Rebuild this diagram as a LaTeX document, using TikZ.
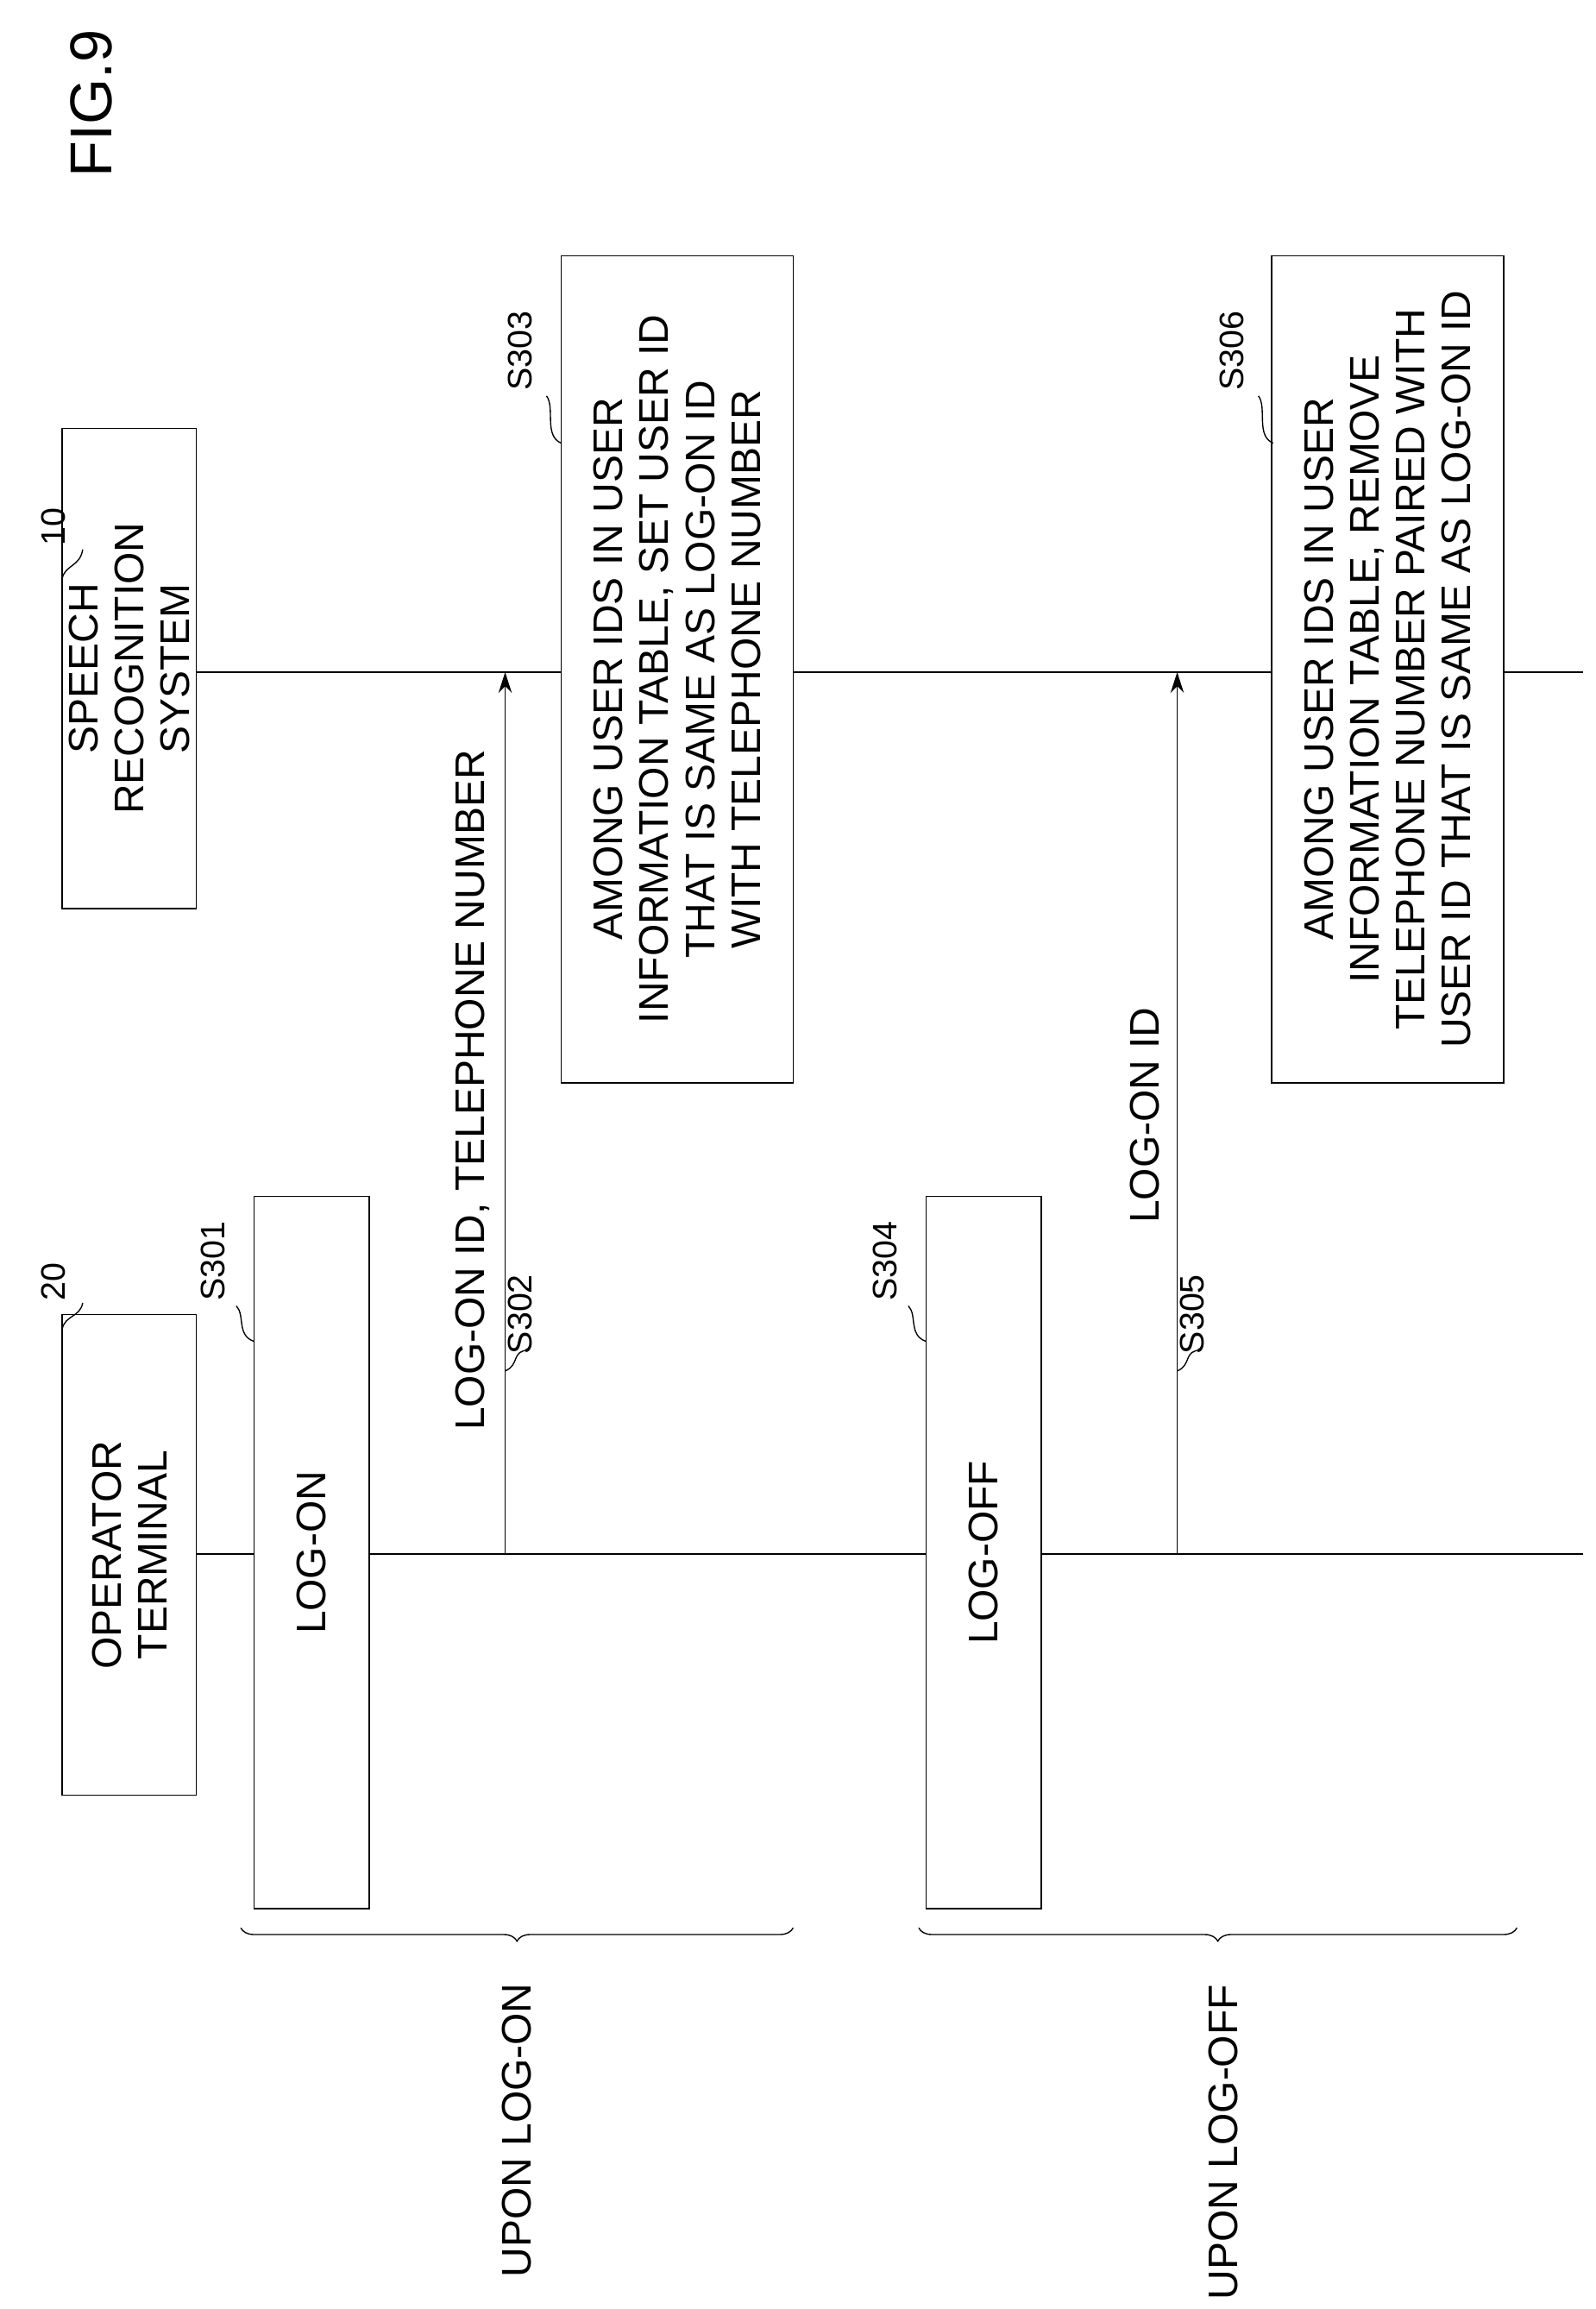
\documentclass[tikz,border=0pt]{standalone}
\usepackage{fontspec}
\setmainfont{Liberation Sans}
\usetikzlibrary{arrows.meta,decorations.pathreplacing}
\tikzset{
  box/.style={draw, thick, fill=white, rotate=90, align=center, inner sep=2pt,
    font=\fontsize{28}{31}\selectfont},
  lbl/.style={rotate=90, font=\fontsize{28}{32}\selectfont},
  tag/.style={rotate=90, anchor=west, font=\fontsize{23}{26}\selectfont},
  curl/.style={thick},
  msg/.style={thick, -{Stealth[length=14pt,width=9pt]}},
  brc/.style={thick, decorate, decoration={brace, amplitude=9pt}}
}
\begin{document}
\begin{tikzpicture}[x=1pt, y=-1pt]
        \useasboundingbox (0,0) rectangle (1080,1563);
        % Title
        \node[lbl, font=\fontsize{40}{44}\selectfont] (fig) at (62,70) {FIG.9};

        % Lifelines
        \coordinate (opStart) at (133,1052);
        \coordinate (opEnd) at (1072,1052);
        \coordinate (srStart) at (133,455);
        \coordinate (srEnd) at (1072,455);
        \draw[thick] (opStart) -- (opEnd);
        \draw[thick] (srStart) -- (srEnd);

        % Actors
        \node[box, minimum width=325pt, minimum height=91pt] (op) at (87.5,1052.5) {OPERATOR\\TERMINAL};
        \node[box, minimum width=325pt, minimum height=91pt] (sr) at (87.5,452.5) {SPEECH\\RECOGNITION\\SYSTEM};

        % Steps
        \node[box, minimum width=482pt, minimum height=78pt] (logon) at (211,1051) {LOG-ON};
        \node[box, minimum width=482pt, minimum height=78pt] (logoff) at (666,1051) {LOG-OFF};
        \node[box, minimum width=560pt, minimum height=157pt] (set) at (458.5,453)
          {AMONG USER IDS IN USER\\INFORMATION TABLE, SET USER ID\\THAT IS SAME AS LOG-ON ID\\WITH TELEPHONE NUMBER};
        \node[box, minimum width=560pt, minimum height=157pt] (rem) at (939.5,453)
          {AMONG USER IDS IN USER\\INFORMATION TABLE, REMOVE\\TELEPHONE NUMBER PAIRED WITH\\USER ID THAT IS SAME AS LOG-ON ID};

        % Messages
        \coordinate (m1a) at (342,1052);
        \coordinate (m1b) at (342,455);
        \coordinate (m2a) at (797,1052);
        \coordinate (m2b) at (797,455);
        \draw[msg] (m1a) -- (m1b);
        \draw[msg] (m2a) -- (m2b);
        \node[lbl] (m1txt) at (320,738) {LOG-ON ID, TELEPHONE NUMBER};
        \node[lbl] (m2txt) at (775,755) {LOG-ON ID};

        % Reference labels
        \node[tag] (n20) at (36,884) {20};
        \draw[curl] (42,900) .. controls (44,890) and (54,892) .. (56,882);
        \node[tag] (n10) at (36,373) {10};
        \draw[curl] (42,392) .. controls (44,382) and (54,384) .. (56,372);
        \node[tag] (s301) at (144,884) {S301};
        \draw[curl] (172,908) .. controls (160,904) and (166,890) .. (160,884);
        \node[tag] (s302) at (352,920) {S302};
        \draw[curl] (342,928) .. controls (352,924) and (346,914) .. (358,914);
        \node[tag] (s303) at (352,268) {S303};
        \draw[curl] (380,300) .. controls (368,295) and (376,276) .. (370,268);
        \node[tag] (s304) at (599,884) {S304};
        \draw[curl] (627,908) .. controls (615,904) and (621,890) .. (615,884);
        \node[tag] (s305) at (807,920) {S305};
        \draw[curl] (797,928) .. controls (807,924) and (801,914) .. (813,914);
        \node[tag] (s306) at (834,268) {S306};
        \draw[curl] (862,300) .. controls (850,295) and (858,276) .. (852,268);

        % Phases
        \coordinate (b1a) at (163,1305);
        \coordinate (b1b) at (537,1305);
        \coordinate (b2a) at (622,1305);
        \coordinate (b2b) at (1027,1305);
        \draw[brc] (b1b) -- (b1a);
        \draw[brc] (b2b) -- (b2a);
        \node[lbl] (ph1) at (350,1442) {UPON LOG-ON};
        \node[lbl] (ph2) at (828,1450) {UPON LOG-OFF};
\end{tikzpicture}
\end{document}
